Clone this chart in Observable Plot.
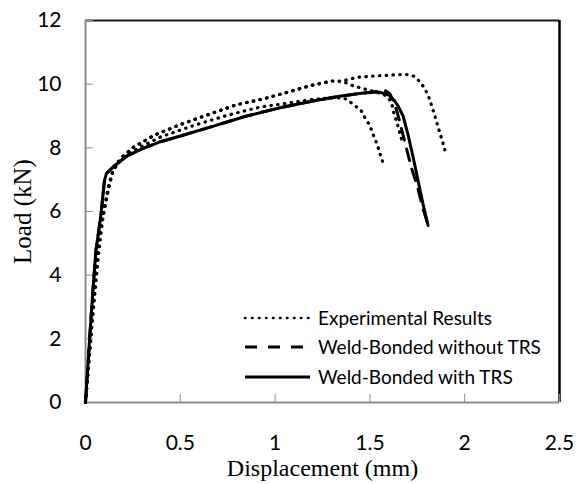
<!DOCTYPE html>
<html><head><meta charset="utf-8">
<script src="https://cdn.jsdelivr.net/npm/d3@7"></script>
<script src="https://cdn.jsdelivr.net/npm/@observablehq/plot@0.6"></script>
<style>body{margin:0;background:#fff} #chart{width:576px;height:484px}</style>
</head><body><div id="chart"></div>
<script>
const xTicks = [0, 0.5, 1, 1.5, 2, 2.5];
const yTicks = [0, 2, 4, 6, 8, 10, 12];
const seriesNames = ["Experimental Results", "Weld-Bonded without TRS", "Weld-Bonded with TRS"];

// Weld-Bonded with TRS (solid)
const trsX = [0, 0.012, 0.025, 0.04, 0.055, 0.07, 0.082, 0.1, 0.11, 0.15, 0.22, 0.31, 0.4, 0.5, 0.675, 0.85, 1.026, 1.2, 1.34, 1.465, 1.55, 1.6, 1.63, 1.65, 1.675, 1.70, 1.728, 1.754, 1.78, 1.807];
const trsY = [0, 1.1, 2.3, 3.6, 4.78, 5.4, 5.93, 6.97, 7.19, 7.42, 7.75, 8.0, 8.2, 8.37, 8.68, 9.0, 9.26, 9.47, 9.62, 9.72, 9.75, 9.66, 9.48, 9.3, 9.0, 8.44, 7.71, 6.97, 6.24, 5.56];

// Weld-Bonded without TRS (dashed)
const noTrsX = [0, 0.012, 0.025, 0.04, 0.055, 0.07, 0.082, 0.1, 0.11, 0.15, 0.22, 0.31, 0.4, 0.5, 0.675, 0.85, 1.026, 1.2, 1.34, 1.465, 1.52, 1.58, 1.605, 1.625, 1.645, 1.66, 1.69, 1.72, 1.75, 1.775, 1.807];
const noTrsY = [0, 1.1, 2.3, 3.6, 4.78, 5.4, 5.93, 6.97, 7.19, 7.42, 7.75, 8.0, 8.2, 8.37, 8.68, 9.0, 9.26, 9.47, 9.62, 9.72, 9.76, 9.8, 9.7, 9.45, 9.1, 8.75, 8.05, 7.35, 6.8, 6.2, 5.56];

// Experimental specimen A (highest)
const expAX = [0, 0.02, 0.04, 0.055, 0.07, 0.087, 0.105, 0.123, 0.135, 0.15, 0.2, 0.254, 0.36, 0.5, 0.66, 0.8, 0.94, 1.02, 1.19, 1.3, 1.354, 1.4, 1.44, 1.486, 1.565, 1.652, 1.697, 1.732, 1.767, 1.793, 1.811, 1.837, 1.86, 1.884, 1.895];
const expAY = [0, 1.5, 3.0, 4.0, 5.09, 5.72, 6.24, 6.76, 7.05, 7.4, 7.75, 8.02, 8.39, 8.73, 9.07, 9.36, 9.54, 9.67, 9.96, 10.1, 10.1, 10.17, 10.22, 10.24, 10.27, 10.3, 10.3, 10.25, 10.06, 9.82, 9.59, 9.12, 8.65, 8.18, 7.94];

// Experimental specimen B (lower, early failure)
const expBX = [0, 0.02, 0.04, 0.06, 0.075, 0.09, 0.1, 0.112, 0.125, 0.14, 0.17, 0.22, 0.289, 0.395, 0.57, 0.746, 0.921, 1.096, 1.2, 1.27, 1.33, 1.371, 1.389, 1.415, 1.454, 1.477, 1.5, 1.512, 1.53, 1.544, 1.556, 1.57];
const expBY = [0, 1.4, 2.8, 4.1, 5.0, 5.7, 6.1, 6.5, 6.9, 7.2, 7.5, 7.8, 8.02, 8.34, 8.7, 9.02, 9.28, 9.43, 9.52, 9.56, 9.57, 9.54, 9.47, 9.35, 9.17, 8.91, 8.7, 8.49, 8.23, 8.0, 7.76, 7.52];

// Experimental specimen C (follows A, then the numerical peak)
const expCX = [0, 0.02, 0.04, 0.055, 0.07, 0.087, 0.105, 0.123, 0.135, 0.15, 0.2, 0.254, 0.36, 0.5, 0.66, 0.8, 0.94, 1.02, 1.19, 1.3, 1.354, 1.38, 1.407, 1.441, 1.5, 1.573, 1.6, 1.615, 1.625, 1.645, 1.67];
const expCY = [0, 1.5, 3.0, 4.0, 5.09, 5.72, 6.24, 6.76, 7.05, 7.4, 7.75, 8.02, 8.39, 8.73, 9.07, 9.36, 9.54, 9.67, 9.96, 10.1, 10.08, 10.03, 9.96, 9.9, 9.8, 9.68, 9.55, 9.4, 9.12, 8.75, 8.2];

const rows = (xs, ys) => xs.map((x, i) => ({x, y: ys[i]}));
const fmt = d => String(d);
const dotted = {stroke: "black", strokeWidth: 3.2, strokeDasharray: "0.5 6.3", strokeLinecap: "round", strokeLinejoin: "round"};

const chart = Plot.plot({
  width: 576, height: 484,
  marginLeft: 85, marginRight: 17, marginTop: 20, marginBottom: 82,
  x: {domain: [0, 2.5]},
  y: {domain: [0, 12]},
  style: {background: "white"},
  marks: [
    Plot.ruleY([12], {stroke: "#1a1a1a", strokeWidth: 2}),
    Plot.ruleX([2.5], {stroke: "#000", strokeWidth: 2.5}),
    Plot.ruleX([0], {stroke: "#8c8c8c", strokeWidth: 2}),
    Plot.ruleY([0], {stroke: "#8c8c8c", strokeWidth: 2}),
    Plot.axisY(yTicks, {tickSize: 8, dx: 8, tickFormat: () => "", stroke: "#8c8c8c", label: null}),
    Plot.axisY(yTicks, {tickSize: 0, tickPadding: 24, fontSize: 21, fontFamily: "Lato", fill: "black", tickFormat: fmt, label: null}),
    Plot.axisX(xTicks, {tickSize: 8, dy: -8, tickFormat: () => "", stroke: "#8c8c8c", label: null}),
    Plot.axisX(xTicks, {tickSize: 0, tickPadding: 33, fontSize: 21, fontFamily: "Lato", fill: "black", tickFormat: fmt, label: null}),
    Plot.line(rows(expAX, expAY), {x: "x", y: "y", ...dotted}),
    Plot.line(rows(expBX, expBY), {x: "x", y: "y", ...dotted}),
    Plot.line(rows(expCX, expCY), {x: "x", y: "y", ...dotted}),
    Plot.line(rows(noTrsX, noTrsY), {x: "x", y: "y", stroke: "black", strokeWidth: 3, strokeDasharray: "12 9", strokeLinejoin: "round"}),
    Plot.line(rows(trsX, trsY), {x: "x", y: "y", stroke: "black", strokeWidth: 3, strokeLinejoin: "round"}),
    Plot.text(["Load (kN)"], {frameAnchor: "left", dx: -63, rotate: -90, text: d => d, textAnchor: "middle", lineAnchor: "middle", fontSize: 25, fontFamily: "Liberation Serif", fill: "black"}),
    Plot.text(["Displacement (mm)"], {frameAnchor: "bottom", dy: 66, text: d => d, textAnchor: "middle", lineAnchor: "middle", fontSize: 24, fontFamily: "Liberation Serif", fill: "black"})
  ]
});
document.getElementById("chart").appendChild(chart);

// legend inside the plot area
const svg = d3.select(chart);
const legendItems = [
  {name: seriesNames[0], dash: "0.5 6.5", w: 2.6, cap: "round", y: 318},
  {name: seriesNames[1], dash: "12 11", w: 3, cap: "butt", y: 347},
  {name: seriesNames[2], dash: null, w: 3, cap: "butt", y: 377}
];
const lg = svg.append("g");
legendItems.forEach(it => {
  lg.append("line").attr("x1", 245).attr("x2", 310).attr("y1", it.y).attr("y2", it.y)
    .attr("stroke", "black").attr("stroke-width", it.w)
    .attr("stroke-dasharray", it.dash).attr("stroke-linecap", it.cap);
  lg.append("text").attr("x", 318).attr("y", it.y).attr("dy", "0.35em")
    .attr("text-anchor", "start")
    .attr("font-family", "Lato").attr("font-size", 19).attr("fill", "black").text(it.name);
});
</script>
</body></html>
